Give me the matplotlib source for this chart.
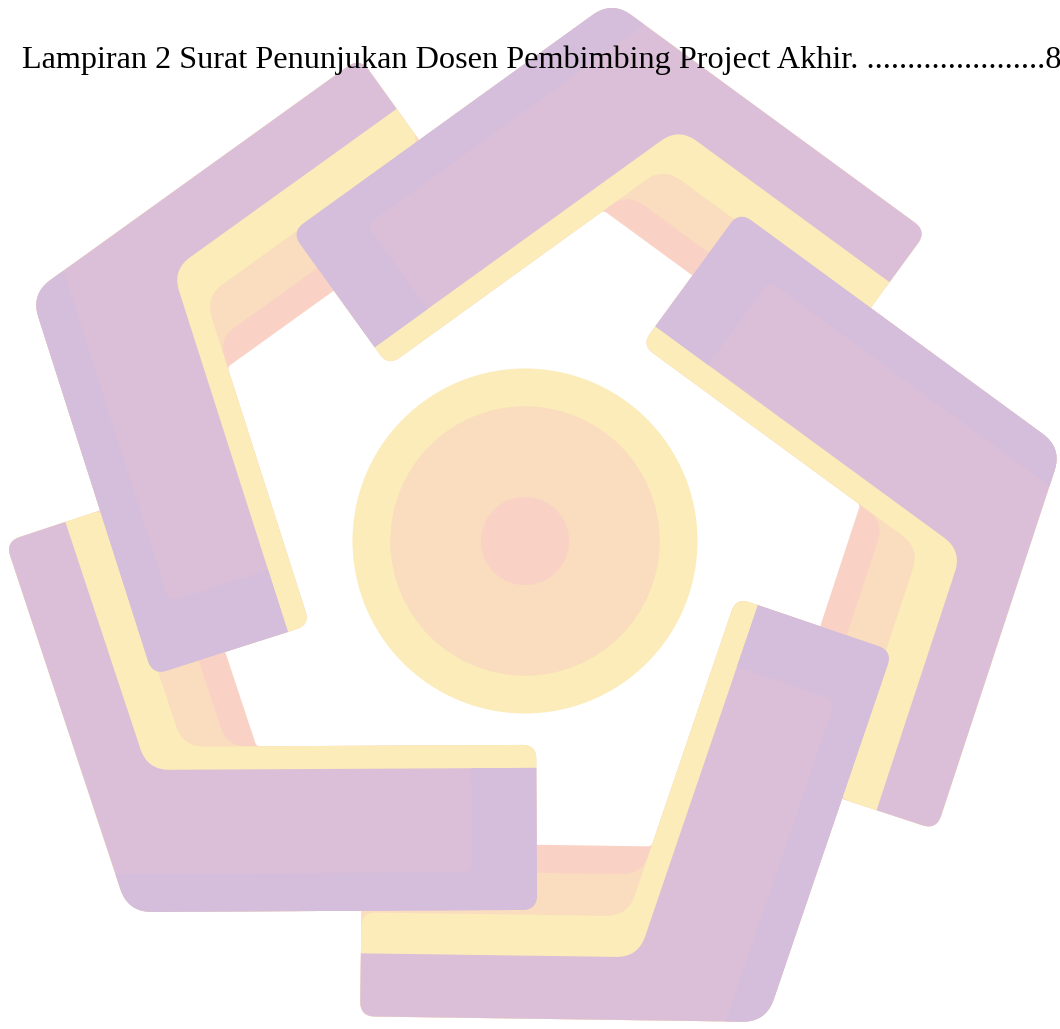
import numpy as np
import matplotlib
matplotlib.use("Agg")
import matplotlib.pyplot as plt
from matplotlib.patches import Polygon, Circle

# ---- header line (table of contents entry)
toc_label = "Lampiran 2 Surat Penunjukan Dosen Pembimbing Project Akhir."
toc_page = "8"
toc_dots = 22

# ---- logo: five bent arms (outer corner in px, direction of the wide leg)
corner_x = [128, 31, 612, 1062, 766]
corner_y = [912, 294, 1, 448, 1022]
wide_leg_angle = [-0.3, 72.3, 144.2, 216.2, 288.8]
wide_len = [409, 400, 395, 400, 392]
narrow_len = [390, 405, 390, 402, 406]

# leg widths (px)
wide_w, narrow_w = 142, 63
yellow_wide, yellow_narrow = 23, 41
peach_w, salmon_w = 42, 28
blue_edge, blue_cap = 38, 65

# centre disc
disc_center = (525, 541)
disc_radii = [172.5, 134.7, 44]

PINK = "#dbbfd8"
BLUE = "#d5bedb"
YEL = "#fcecb9"
PEACH = "#fadcbf"
SALMON = "#f9d2c5"

C108, S108 = np.cos(np.radians(108)), np.sin(np.radians(108))
T = np.array([C108, S108])      # narrow leg direction (local)
NT = np.array([S108, -C108])    # inward normal of narrow leg


def rounded(pts, radii, n=12):
    pts = np.asarray(pts, float)
    k = len(pts)
    out = []
    for i in range(k):
        p, r = pts[i], radii[i]
        if r <= 0:
            out.append(p)
            continue
        a, b = pts[i - 1], pts[(i + 1) % k]
        da = (a - p) / np.linalg.norm(a - p)
        db = (b - p) / np.linalg.norm(b - p)
        s, e = p + da * r, p + db * r
        for tt in np.linspace(0, 1, n):
            out.append((1 - tt) ** 2 * s + 2 * (1 - tt) * tt * p + tt ** 2 * e)
    return np.array(out)


def l_shape(wk, wn, lk, ln):
    p3 = np.array([(wn - NT[1] * wk) / NT[0], wk])
    return [np.array([0.0, 0.0]), np.array([lk, 0.0]), np.array([lk, wk]),
            p3, ln * T + wn * NT, ln * T]


def to_img(pts, i):
    th = np.radians(wide_leg_angle[i])
    U = np.array([np.cos(th), np.sin(th)])
    V = np.array([np.sin(th), -np.cos(th)])
    pts = np.asarray(pts)
    return np.array([corner_x[i], corner_y[i]]) + pts[:, :1] * U + pts[:, 1:] * V


fig = plt.figure(figsize=(10.6, 10.29), dpi=100)
ax = fig.add_axes([0, 0, 1, 1])
ax.set_xlim(0, 1060)
ax.set_ylim(1029, 0)
ax.axis("off")

wk_y = wide_w + yellow_wide
wn_y = narrow_w + yellow_narrow

# ---- coloured bands under the arms
for i in range(len(corner_x)):
    lk, ln = wide_len[i], narrow_len[i]
    layers = [
        (l_shape(wk_y, wn_y + peach_w + salmon_w, lk, ln), [24, 15, 14, 4, 10, 15], SALMON),
        (l_shape(wk_y, wn_y + peach_w, lk, ln), [24, 15, 14, 20, 12, 15], PEACH),
        (l_shape(wk_y, wn_y, lk, ln), [24, 15, 14, 22, 14, 15], YEL),
    ]
    for pts, rr, col in layers:
        ax.add_patch(Polygon(to_img(rounded(pts, rr), i), closed=True,
                             facecolor=col, edgecolor="none", zorder=1))

# ---- purple arms
for i in range(len(corner_x)):
    lk, ln = wide_len[i], narrow_len[i]
    body = l_shape(wide_w, narrow_w, lk, ln)
    ax.add_patch(Polygon(to_img(rounded(body, [24, 15, 0, 22, 0, 15]), i),
                         closed=True, facecolor=PINK, edgecolor="none", zorder=2))
    q4 = (blue_edge / S108) * T
    band = [body[0], body[1], body[2],
            np.array([lk - blue_cap, wide_w]),
            np.array([lk - blue_cap, blue_edge]), q4]
    ax.add_patch(Polygon(to_img(rounded(band, [24, 15, 0, 0, 10, 0]), i),
                         closed=True, facecolor=BLUE, edgecolor="none", zorder=3))

# ---- centre disc
for r, col in zip(disc_radii, [YEL, PEACH, SALMON]):
    ax.add_patch(Circle(disc_center, r, facecolor=col, edgecolor="none", zorder=4))

ax.text(22, 68, toc_label + " " + "." * toc_dots + toc_page,
        fontsize=23.2, family=["Liberation Serif", "DejaVu Serif"],
        color="black", va="baseline", ha="left", zorder=10)

fig.savefig("out.png", dpi=100)
